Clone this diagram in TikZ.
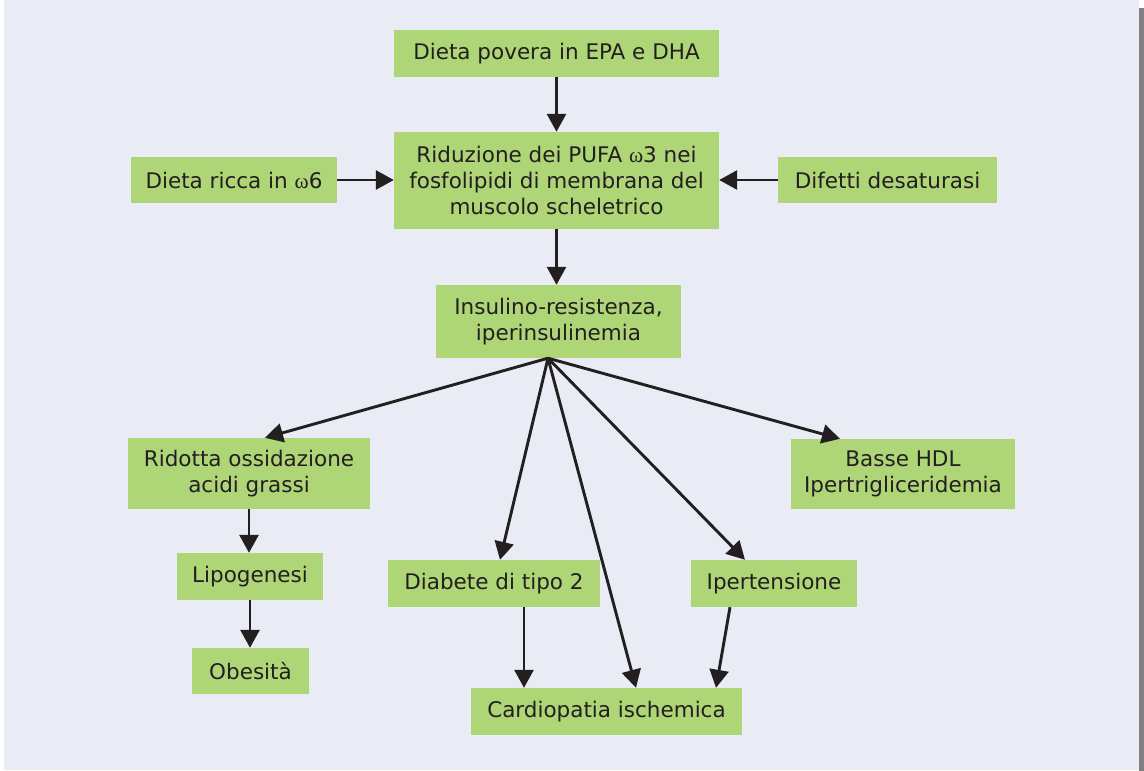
\documentclass[tikz,border=0pt]{standalone}
\usepackage{fontspec}
\setmainfont{DejaVu Sans}
\newfontfamily\omegafont{Liberation Serif}
\usetikzlibrary{arrows.meta,calc}
\definecolor{bgc}{RGB}{233,236,245}
\definecolor{boxc}{RGB}{174,213,118}
\definecolor{inkc}{RGB}{35,31,32}
\definecolor{barc}{RGB}{128,128,130}
\newcommand{\om}{{\omegafont ω}}
\tikzset{
  box/.style={fill=boxc, draw=none, inner sep=0pt, align=center, text=inkc,
    font=\fontsize{21.5}{26}\selectfont},
  arr/.style={draw=inkc, line width=2.9pt, -{Triangle[length=18pt,width=19pt]}}
}
\begin{document}
\begin{tikzpicture}[x=1pt,y=-1pt]
\useasboundingbox (0,0) rectangle (1144,771);
\fill[bgc] (4,0) rectangle (1139,770);
\fill[barc] (1139,8) rectangle (1144,771);

\node[box, minimum width=325pt, minimum height=47pt] (epa) at (556.5,53.5) {Dieta povera in EPA e DHA};
\node[box, minimum width=325pt, minimum height=97pt] (rid) at (556.5,180.5) {Riduzione dei PUFA \om3 nei\\fosfolipidi di membrana del\\muscolo scheletrico};
\node[box, minimum width=206pt, minimum height=46pt] (ricca) at (234,180) {Dieta ricca in \om6};
\node[box, minimum width=219pt, minimum height=46pt] (dif) at (887.5,180) {Difetti desaturasi};
\node[box, minimum width=245pt, minimum height=73pt] (ins) at (558.5,321.5) {Insulino-resistenza,\\iperinsulinemia};
\node[box, minimum width=242pt, minimum height=71pt] (oss) at (249,473.5) {Ridotta ossidazione\\acidi grassi};
\node[box, minimum width=224pt, minimum height=70pt] (hdl) at (903,474) {Basse HDL\\Ipertrigliceridemia};
\node[box, minimum width=146pt, minimum height=47pt] (lip) at (250,576.5) {Lipogenesi};
\node[box, minimum width=117pt, minimum height=46pt] (obe) at (250.5,671) {Obesità};
\node[box, minimum width=212pt, minimum height=47pt] (dia) at (494,583.5) {Diabete di tipo 2};
\node[box, minimum width=166pt, minimum height=47pt] (ipe) at (774,583.5) {Ipertensione};
\node[box, minimum width=271pt, minimum height=47pt] (car) at (606.5,711.5) {Cardiopatia ischemica};

\draw[arr] (epa) -- (rid);
\draw[arr] (rid.south) -- (rid.south |- ins.north);
\draw[arr] (ricca.east) -- (ricca.east -| rid.west);
\draw[arr] (dif.west) -- (dif.west -| rid.east);

\coordinate (fan) at ($(ins.south)+(-10.5,0)$);
\draw[arr] (fan) -- ($(oss.north)+(16,0)$);
\draw[arr] (fan) -- ($(hdl.north)+(-63,0)$);
\draw[arr] (fan) -- ($(dia.north)+(6,0)$);
\draw[arr] (fan) -- ($(car.north)+(29.5,0)$);
\draw[arr] (fan) -- ($(ipe.north)+(-29,0)$);

\draw[arr] (oss.south) -- (oss.south |- lip.north);
\draw[arr] (lip.south) -- (lip.south |- obe.north);
\coordinate (d1) at ($(dia.south)+(30,0)$);
\draw[arr] (d1) -- (d1 |- car.north);
\draw[arr] ($(ipe.south)+(-44,0)$) -- ($(car.north)+(109.5,0)$);
\end{tikzpicture}
\end{document}
